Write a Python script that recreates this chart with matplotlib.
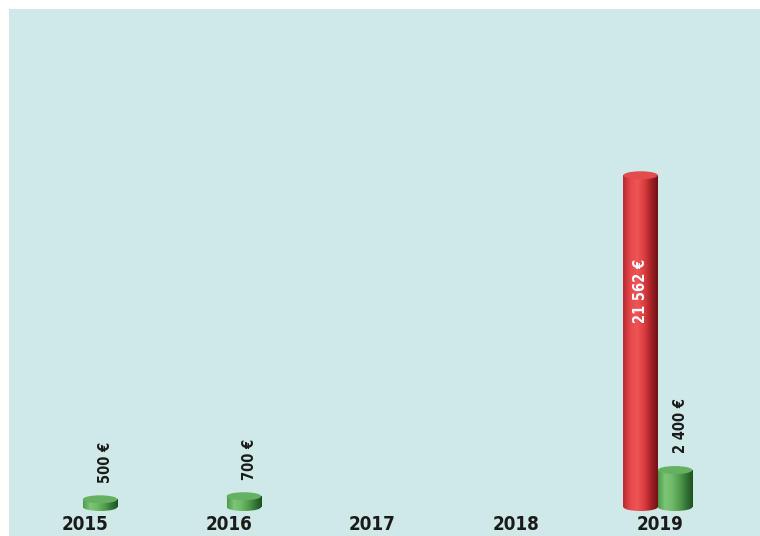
import matplotlib
matplotlib.use("Agg")
import matplotlib.pyplot as plt
import numpy as np
from matplotlib.patches import Ellipse, Rectangle
from matplotlib.colors import LinearSegmentedColormap

years = ["2015", "2016", "2017", "2018", "2019"]
red_values = [0, 0, 0, 0, 21562]
green_values = [500, 700, 0, 0, 2400]
red_labels = ["", "", "", "", "21 562 €"]
green_labels = ["500 €", "700 €", "", "", "2 400 €"]

W, H = 760, 536
fig = plt.figure(figsize=(W / 100, H / 100), dpi=100)
fig.patch.set_facecolor("white")
# panel background
fig.patches.append(Rectangle((9 / W, 0), (W - 9) / W, (H - 9) / H, transform=fig.transFigure,
                             facecolor="#cfe9e8", edgecolor="none", zorder=-10))

ppx_y = 65.0
px_x = 143.75
ax = fig.add_axes([9 / W, (H - 512) / H, (W - 9) / W, 503 / H])
ax.set_facecolor("none")
ax.set_zorder(1)
for s in ax.spines.values():
    s.set_visible(False)
ax.set_yticks([])
x = np.arange(len(years))

bw = 0.24
red_off = -0.135
green_off = 0.105

green_cmap = LinearSegmentedColormap.from_list(
    "g", ["#4f9a4c", "#7cc676", "#70bb6b", "#55a050", "#357838", "#214f24"])
red_cmap = LinearSegmentedColormap.from_list(
    "r", ["#b82a2e", "#e5474a", "#ef5656", "#dc3f42", "#a82226", "#6e1216"])
grad = np.linspace(0, 1, 64).reshape(1, -1)
ell_h = 8 * ppx_y


def draw_cyl(xc, val, cmap, top_color):
    if val <= 0:
        return
    bars = ax.bar([xc], [val], width=bw, color="none", edgecolor="none", zorder=3)
    b = bars[0]
    bottom = Ellipse((xc, 0), bw, ell_h, facecolor="none", edgecolor="none")
    ax.add_patch(bottom)
    im = ax.imshow(grad, cmap=cmap, aspect="auto",
                   extent=[xc - bw / 2, xc + bw / 2, -ell_h / 2, val], zorder=3)
    im.set_clip_path(b)
    im2 = ax.imshow(grad, cmap=cmap, aspect="auto",
                    extent=[xc - bw / 2, xc + bw / 2, -ell_h / 2, 0], zorder=3)
    im2.set_clip_path(bottom)
    top = Ellipse((xc, val), bw, ell_h, facecolor=top_color, edgecolor="none", zorder=4)
    ax.add_patch(top)


for i in range(len(years)):
    draw_cyl(x[i] + red_off, red_values[i], red_cmap, "#e24c4e")
    draw_cyl(x[i] + green_off, green_values[i], green_cmap, "#66b061")

for i in range(len(years)):
    if green_labels[i]:
        ax.annotate(green_labels[i], (x[i] + green_off, green_values[i]),
                    xytext=(4, 12), textcoords="offset points", rotation=90,
                    ha="center", va="bottom", fontsize=10.5, fontweight="bold",
                    color="#1a1a1a", family="DejaVu Sans", stretch="condensed", zorder=5)
    if red_labels[i]:
        ax.text(x[i] + red_off, red_values[i] * 0.65, red_labels[i], rotation=90,
                ha="center", va="center", fontsize=10.5, fontweight="bold",
                color="white", family="DejaVu Sans", stretch="condensed", zorder=5)

ax.set_ylim(-5 * ppx_y, 498 * ppx_y)
ax.set_xlim(-(85 - 9) / px_x, 4 + (760 - 660) / px_x)
ax.set_xticks(x)
ax.set_xticklabels(years, fontsize=13.5, fontweight="bold", color="#1a1a1a",
                   family="DejaVu Sans", stretch="condensed")
ax.tick_params(axis="x", length=0, pad=2)

fig.savefig("out.png", dpi=100, facecolor=fig.get_facecolor())
